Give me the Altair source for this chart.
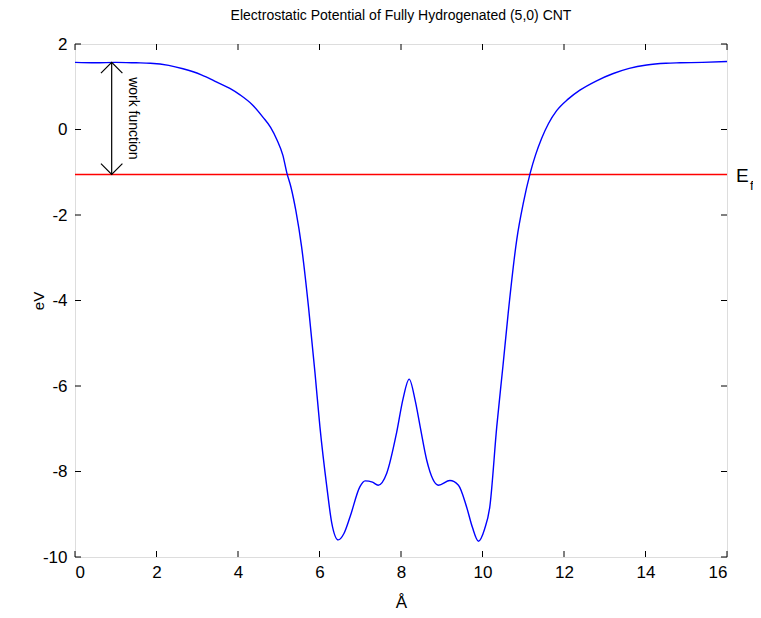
import altair as alt
import pandas as pd

# ---- data ----
pos_x = [0, 0.5, 1.0, 1.5, 1.85, 2.3, 2.65, 3.1, 3.48, 3.8, 4.05, 4.35, 4.61, 4.8, 4.96,
         5.1, 5.2, 5.3, 5.42, 5.56, 5.73, 5.89, 6.01, 6.18, 6.3, 6.46, 6.6, 6.75, 6.99,
         7.12, 7.3, 7.44, 7.65, 7.89, 8.05, 8.2, 8.35, 8.47, 8.63, 8.92, 9.2, 9.41, 9.61,
         9.75, 9.9, 10.05, 10.18, 10.35, 10.5, 10.63, 10.84, 11.0, 11.17, 11.3, 11.45,
         11.62, 11.82, 12.1, 12.39, 12.8, 13.21, 13.6, 14.03, 14.5, 14.85, 15.4, 16]
potential = [1.57, 1.56, 1.57, 1.56, 1.55, 1.50, 1.42, 1.28, 1.11, 0.96, 0.81, 0.58, 0.29,
             0.05, -0.25, -0.6, -1.02, -1.35, -1.9, -2.74, -4.15, -5.70, -6.95, -8.36, -9.2,
             -9.60, -9.45, -9.06, -8.36, -8.22, -8.25, -8.32, -8.04, -7.10, -6.3, -5.84,
             -6.35, -6.95, -7.73, -8.32, -8.21, -8.32, -8.83, -9.3, -9.63, -9.35, -8.82,
             -6.95, -5.55, -4.30, -2.58, -1.73, -1.02, -0.6, -0.21, 0.14, 0.44, 0.71, 0.92,
             1.14, 1.31, 1.43, 1.51, 1.55, 1.56, 1.57, 1.59]
fermi_level = -1.05
vacuum_level = 1.57
arrow_x = 0.9
x_ticks = [0, 2, 4, 6, 8, 10, 12, 14, 16]
y_ticks = [-10, -8, -6, -4, -2, 0, 2]

W, H = 652, 513
FONT = "Liberation Sans, Arial, sans-serif"

curve_df = pd.DataFrame({"x": pos_x, "y": potential})
fermi_df = pd.DataFrame({"x": [x_ticks[0], x_ticks[-1]], "y": [fermi_level, fermi_level]})
arrow_df = pd.DataFrame({"x": [arrow_x], "y": [vacuum_level], "y2": [fermi_level]})
xt_df = pd.DataFrame({"v": x_ticks})
yt_df = pd.DataFrame({"v": y_ticks})

xscale = alt.Scale(domain=[0, 16], nice=False, zero=False)
yscale = alt.Scale(domain=[-10, 2], nice=False, zero=False)

xaxis = alt.Axis(values=x_ticks, ticks=False, domain=False, grid=False, labelPadding=7,
                 labelFontSize=17, labelFont=FONT, labelColor="black",
                 labelExpr="datum.value + ''",
                 title="Å", titleFontSize=17, titleFont=FONT, titleFontWeight="normal",
                 titleColor="black", titleX=W / 2, titleY=45, titleBaseline="middle",
                 titleAlign="center")
yaxis = alt.Axis(values=y_ticks, ticks=False, domain=False, grid=False, labelPadding=8,
                 labelFontSize=17, labelFont=FONT, labelColor="black",
                 labelExpr="datum.value + ''",
                 title="eV", titleFontSize=15, titleFont=FONT, titleFontWeight="normal",
                 titleColor="black", titleX=-37, titleY=H / 2, titleBaseline="middle",
                 titleAlign="center", titleAngle=270)

curve = alt.Chart(curve_df).mark_line(color="#0000ff", strokeWidth=1.4, interpolate="monotone").encode(
    x=alt.X("x:Q", scale=xscale, axis=xaxis),
    y=alt.Y("y:Q", scale=yscale, axis=yaxis),
)

fermi = alt.Chart(fermi_df).mark_line(color="#ff0000", strokeWidth=1.5).encode(
    x=alt.X("x:Q", scale=xscale), y=alt.Y("y:Q", scale=yscale))

arrow_line = alt.Chart(arrow_df).mark_rule(color="black", strokeWidth=1.2).encode(
    x=alt.X("x:Q", scale=xscale), y=alt.Y("y:Q", scale=yscale), y2="y2:Q")
head_top = alt.Chart(arrow_df).mark_point(shape="M-1,1L0,0L1,1", filled=False, color="black",
                                          size=460, strokeWidth=1.2, opacity=1).encode(
    x=alt.X("x:Q", scale=xscale), y=alt.Y("y:Q", scale=yscale))
head_bot = alt.Chart(arrow_df).mark_point(shape="M-1,-1L0,0L1,-1", filled=False, color="black",
                                          size=460, strokeWidth=1.2, opacity=1).encode(
    x=alt.X("x:Q", scale=xscale), y=alt.Y("y2:Q", scale=yscale))
wf_text = alt.Chart(pd.DataFrame({"x": [arrow_x + 0.52], "y": [(vacuum_level + fermi_level) / 2],
                                  "t": ["work function"]})).mark_text(
    angle=90, fontSize=14, font=FONT, color="black", align="center", baseline="middle").encode(
    x=alt.X("x:Q", scale=xscale), y=alt.Y("y:Q", scale=yscale), text="t:N")

ef_df = pd.DataFrame({"y": [fermi_level]})
ef_E = alt.Chart(ef_df).mark_text(text="E", fontSize=19, font=FONT, color="black",
                                  align="left", baseline="middle", dy=2).encode(
    x=alt.value(W + 9), y=alt.Y("y:Q", scale=yscale))
ef_f = alt.Chart(ef_df).mark_text(text="f", fontSize=13, font=FONT, color="black",
                                  align="left", baseline="middle", dy=12).encode(
    x=alt.value(W + 23), y=alt.Y("y:Q", scale=yscale))

tick_style = dict(color="black", strokeWidth=1)
t_bottom = alt.Chart(xt_df).mark_rule(**tick_style).encode(
    x=alt.X("v:Q", scale=xscale), y=alt.value(H), y2=alt.value(H - 6))
t_top = alt.Chart(xt_df).mark_rule(**tick_style).encode(
    x=alt.X("v:Q", scale=xscale), y=alt.value(0), y2=alt.value(6))
t_left = alt.Chart(yt_df).mark_rule(**tick_style).encode(
    y=alt.Y("v:Q", scale=yscale), x=alt.value(0), x2=alt.value(6))
t_right = alt.Chart(yt_df).mark_rule(**tick_style).encode(
    y=alt.Y("v:Q", scale=yscale), x=alt.value(W), x2=alt.value(W - 6))

chart = alt.layer(
    fermi, curve, arrow_line, head_top, head_bot, wf_text, ef_E, ef_f,
    t_bottom, t_top, t_left, t_right,
).properties(
    width=W, height=H,
    autosize=alt.AutoSizeParams(type="none"),
    padding={"left": 67, "top": 36, "right": 26, "bottom": 53},
    title=alt.TitleParams("Electrostatic Potential of Fully Hydrogenated (5,0) CNT",
                          fontSize=14, font=FONT, fontWeight="normal", color="black",
                          anchor="middle", offset=12),
).configure_view(stroke="black", strokeWidth=1.2).configure(background="white")

chart.save("out.html", embed_options={"renderer": "svg", "actions": False})
